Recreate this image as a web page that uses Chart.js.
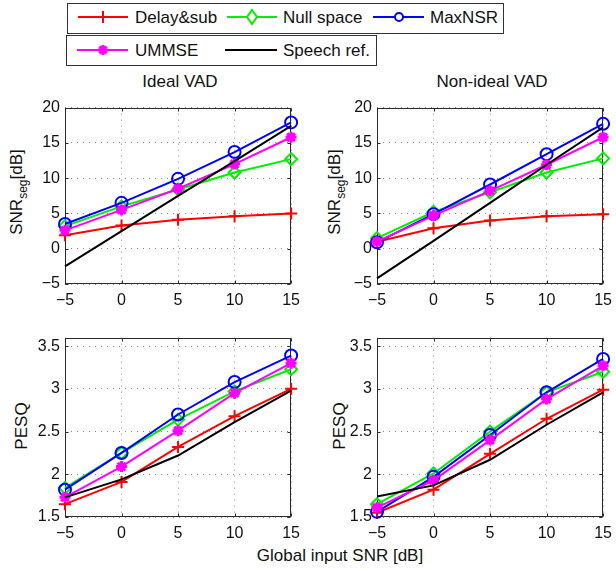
<!DOCTYPE html>
<html>
<head>
<meta charset="utf-8">
<script src="https://cdn.jsdelivr.net/npm/chart.js@4/dist/chart.umd.min.js"></script>
<style>
  html, body { margin: 0; padding: 0; background: #fff; }
  #page { position: relative; width: 616px; height: 571px; overflow: hidden;
          font-family: "Liberation Sans", Arial, Helvetica, sans-serif; color: #111; }
  canvas { position: absolute; }
  .txt { position: absolute; white-space: nowrap; font-size: 17px; line-height: 1;
         transform: translate(-50%, -50%); }
  .leg { position: absolute; white-space: nowrap; font-size: 17px; line-height: 1;
         transform: translateY(-50%); }
  .vl { position: absolute; white-space: nowrap; font-size: 17px; line-height: 1;
        transform: translate(-50%, -50%) rotate(-90deg); }
  .vl sub { font-size: 12px; vertical-align: -5px; line-height: 1; }
  .legbox { position: absolute; border: 1px solid #333; box-sizing: border-box; background: #fff; }
  svg { position: absolute; overflow: visible; }
</style>
</head>
<body>
<div id="page">
  <!-- legend -->
  <div class="legbox" style="left:67px; top:3px; width:437px; height:31px;"></div>
  <div class="legbox" style="left:66px; top:35px; width:311px; height:31px;"></div>

  <svg style="left:75px; top:7px;" width="60" height="20">
    <line x1="3" y1="10" x2="53" y2="10" stroke="#ff0000" stroke-width="2"/>
    <line x1="28" y1="4" x2="28" y2="16" stroke="#ff0000" stroke-width="2"/>
    <line x1="22" y1="10" x2="34" y2="10" stroke="#ff0000" stroke-width="2"/>
  </svg>
  <div class="leg" style="left:135px; top:17px;">Delay&amp;sub</div>

  <svg style="left:224px; top:7px;" width="60" height="20">
    <line x1="3" y1="10" x2="53" y2="10" stroke="#00ee00" stroke-width="2"/>
    <polygon points="28,3 33,10 28,17 23,10" fill="#fff" stroke="#00ee00" stroke-width="2"/>
  </svg>
  <div class="leg" style="left:283px; top:17px;">Null space</div>

  <svg style="left:370px; top:7px;" width="60" height="20">
    <line x1="3" y1="10" x2="54" y2="10" stroke="#0000ff" stroke-width="2"/>
    <circle cx="29" cy="10" r="4" fill="#fff" stroke="#0000ff" stroke-width="2"/>
  </svg>
  <div class="leg" style="left:430px; top:17px;">MaxNSR</div>

  <svg style="left:74px; top:40px;" width="60" height="20">
    <line x1="3" y1="10" x2="54" y2="10" stroke="#ff00ff" stroke-width="2"/>
    <g stroke="#ff00ff" stroke-width="3">
      <line x1="29" y1="5" x2="29" y2="15"/>
      <line x1="24" y1="10" x2="34" y2="10"/>
      <line x1="25.5" y1="6.5" x2="32.5" y2="13.5"/>
      <line x1="25.5" y1="13.5" x2="32.5" y2="6.5"/>
    </g>
  </svg>
  <div class="leg" style="left:135px; top:50px;">UMMSE</div>

  <svg style="left:222px; top:40px;" width="60" height="20">
    <line x1="3" y1="10" x2="55" y2="10" stroke="#000" stroke-width="2"/>
  </svg>
  <div class="leg" style="left:283px; top:50px;">Speech ref.</div>

  <!-- panel titles and axis labels -->
  <div class="txt" style="left:180px; top:81px;">Ideal VAD</div>
  <div class="txt" style="left:492px; top:81px;">Non-ideal VAD</div>
  <div class="vl" style="left:18px; top:192px;">SNR<sub>seg</sub>[dB]</div>
  <div class="vl" style="left:336px; top:192px;">SNR<sub>seg</sub>[dB]</div>
  <div class="vl" style="left:21px; top:426px;">PESQ</div>
  <div class="vl" style="left:339px; top:426px;">PESQ</div>
  <div class="txt" style="left:340px; top:555px;">Global input SNR [dB]</div>

  <canvas id="c1"></canvas>
  <canvas id="c2"></canvas>
  <canvas id="c3"></canvas>
  <canvas id="c4"></canvas>
</div>

<script>
// Global input SNR [dB] (x values, shared by every panel)
const inputSnr = [-5, 0, 5, 10, 15];
const xTickValues = [-5, 0, 5, 10, 15];
const snrSegTickValues = [-5, 0, 5, 10, 15, 20];
const pesqTickValues = [1.5, 2, 2.5, 3, 3.5];

const methodNames = ['Delay&sub', 'Null space', 'MaxNSR', 'UMMSE', 'Speech ref.'];

// Segmental SNR [dB], ideal VAD
const snrIdealDelaySub  = [1.9, 3.3, 4.1, 4.6, 5.0];
const snrIdealNullSpace = [3.2, 6.0, 8.4, 10.8, 12.7];
const snrIdealMaxNSR    = [3.5, 6.5, 9.9, 13.7, 17.9];
const snrIdealUMMSE     = [2.6, 5.5, 8.5, 12.0, 15.8];
const snrIdealSpeechRef = [-2.5, 2.5, 7.5, 12.4, 17.4];

// Segmental SNR [dB], non-ideal VAD
const snrNonIdealDelaySub  = [1.0, 2.9, 4.0, 4.6, 4.9];
const snrNonIdealNullSpace = [1.5, 5.2, 8.0, 10.8, 12.8];
const snrNonIdealMaxNSR    = [0.9, 4.9, 9.1, 13.4, 17.7];
const snrNonIdealUMMSE     = [1.0, 4.7, 8.2, 11.9, 15.8];
const snrNonIdealSpeechRef = [-4.2, 1.1, 6.5, 11.9, 17.2];

// PESQ, ideal VAD
const pesqIdealDelaySub  = [1.65, 1.91, 2.32, 2.68, 3.00];
const pesqIdealNullSpace = [1.84, 2.25, 2.64, 2.97, 3.23];
const pesqIdealMaxNSR    = [1.82, 2.25, 2.70, 3.08, 3.39];
const pesqIdealUMMSE     = [1.73, 2.09, 2.51, 2.95, 3.30];
const pesqIdealSpeechRef = [1.73, 1.94, 2.22, 2.61, 2.98];

// PESQ, non-ideal VAD
const pesqNonIdealDelaySub  = [1.55, 1.82, 2.24, 2.65, 2.99];
const pesqNonIdealNullSpace = [1.65, 2.01, 2.50, 2.96, 3.20];
const pesqNonIdealMaxNSR    = [1.56, 1.97, 2.46, 2.96, 3.35];
const pesqNonIdealUMMSE     = [1.61, 1.93, 2.40, 2.88, 3.27];
const pesqNonIdealSpeechRef = [1.74, 1.87, 2.17, 2.58, 2.96];

const methodStyles = [
  { color: '#ff0000', point: 'cross',   r: 6,   pw: 2 },
  { color: '#00ee00', point: 'rectRot', r: 6,   pw: 2 },
  { color: '#0000ff', point: 'circle',  r: 6,   pw: 2 },
  { color: '#ff00ff', point: 'star',    r: 5.5, pw: 3 },
  { color: '#000000', point: false,     r: 0,   pw: 0 }
];

const tickFont = { family: '"Liberation Sans", Arial, sans-serif', size: 16 };
const fmt = v => String(v).replace('-', '\u2212');

// axes box with inward tick marks
const framePlugin = {
  id: 'frame',
  beforeDatasetsDraw(chart) {
    const { ctx, chartArea: a, scales } = chart;
    const L = Math.round(a.left) + 0.5, R = Math.round(a.right) - 0.5;
    const T = Math.round(a.top) + 0.5, B = Math.round(a.bottom) - 0.5;
    ctx.save();
    ctx.strokeStyle = '#2a2a2a';
    ctx.lineWidth = 1;
    ctx.strokeRect(L, T, R - L, B - T);
    ctx.beginPath();
    scales.x.ticks.forEach(t => {
      const px = Math.round(scales.x.getPixelForValue(t.value)) + 0.5;
      ctx.moveTo(px, B); ctx.lineTo(px, B - 3);
      ctx.moveTo(px, T); ctx.lineTo(px, T + 3);
    });
    scales.y.ticks.forEach(t => {
      const py = Math.round(scales.y.getPixelForValue(t.value)) + 0.5;
      ctx.moveTo(L, py); ctx.lineTo(L + 3, py);
      ctx.moveTo(R, py); ctx.lineTo(R - 3, py);
    });
    ctx.stroke();
    ctx.restore();
  }
};

function dataset(i, values) {
  const st = methodStyles[i];
  return {
    label: methodNames[i],
    data: inputSnr.map((x, k) => ({ x: x, y: values[k] })),
    borderColor: st.color,
    backgroundColor: 'rgba(0,0,0,0)',
    borderWidth: 2,
    pointStyle: st.point,
    pointRadius: st.r,
    pointHoverRadius: st.r,
    pointBorderWidth: st.pw,
    pointBorderColor: st.color,
    pointBackgroundColor: 'rgba(0,0,0,0)',
    tension: 0,
    clip: false,
    order: 4 - i
  };
}

// plot rectangle in page pixels -> canvas placement
function panel(id, rect, yMin, yMax, yTicks, series) {
  const padT = 12, padR = 12, yW = 65, xH = 32;
  const cv = document.getElementById(id);
  const w = rect.w + yW + padR, h = rect.h + padT + xH;
  cv.width = w; cv.height = h;
  cv.style.left = (rect.x - yW) + 'px';
  cv.style.top = (rect.y - padT) + 'px';
  cv.style.width = w + 'px'; cv.style.height = h + 'px';
  return new Chart(cv, {
    type: 'line',
    data: { datasets: series.map((v, i) => dataset(i, v)) },
    options: {
      responsive: false,
      animation: false,
      devicePixelRatio: 1,
      layout: { padding: { top: padT, right: padR, left: 0, bottom: 0 } },
      plugins: { legend: { display: false }, tooltip: { enabled: false } },
      events: [],
      scales: {
        x: {
          type: 'linear', min: -5, max: 15,
          afterBuildTicks: s => { s.ticks = xTickValues.map(v => ({ value: v })); },
          afterFit: s => { s.height = xH; },
          grid: { color: '#8c8c8c', lineWidth: 1, drawTicks: false, tickLength: 0 },
          border: { display: false, dash: [1, 5] },
          ticks: { padding: 7, font: tickFont, color: '#111', maxRotation: 0, callback: fmt }
        },
        y: {
          type: 'linear', min: yMin, max: yMax,
          afterBuildTicks: s => { s.ticks = yTicks.map(v => ({ value: v })); },
          afterFit: s => { s.width = yW; },
          grid: { color: '#8c8c8c', lineWidth: 1, drawTicks: false, tickLength: 0 },
          border: { display: false, dash: [1, 5] },
          ticks: { padding: 5, font: tickFont, color: '#111', callback: fmt }
        }
      }
    },
    plugins: [framePlugin]
  });
}

panel('c1', { x: 65, y: 105, w: 230, h: 179 }, -5, 20, snrSegTickValues,
  [snrIdealDelaySub, snrIdealNullSpace, snrIdealMaxNSR, snrIdealUMMSE, snrIdealSpeechRef]);
panel('c2', { x: 377, y: 105, w: 230, h: 179 }, -5, 20, snrSegTickValues,
  [snrNonIdealDelaySub, snrNonIdealNullSpace, snrNonIdealMaxNSR, snrNonIdealUMMSE, snrNonIdealSpeechRef]);
panel('c3', { x: 65, y: 335, w: 230, h: 182 }, 1.5, 3.6, pesqTickValues,
  [pesqIdealDelaySub, pesqIdealNullSpace, pesqIdealMaxNSR, pesqIdealUMMSE, pesqIdealSpeechRef]);
panel('c4', { x: 377, y: 335, w: 230, h: 182 }, 1.5, 3.6, pesqTickValues,
  [pesqNonIdealDelaySub, pesqNonIdealNullSpace, pesqNonIdealMaxNSR, pesqNonIdealUMMSE, pesqNonIdealSpeechRef]);
</script>
</body>
</html>
